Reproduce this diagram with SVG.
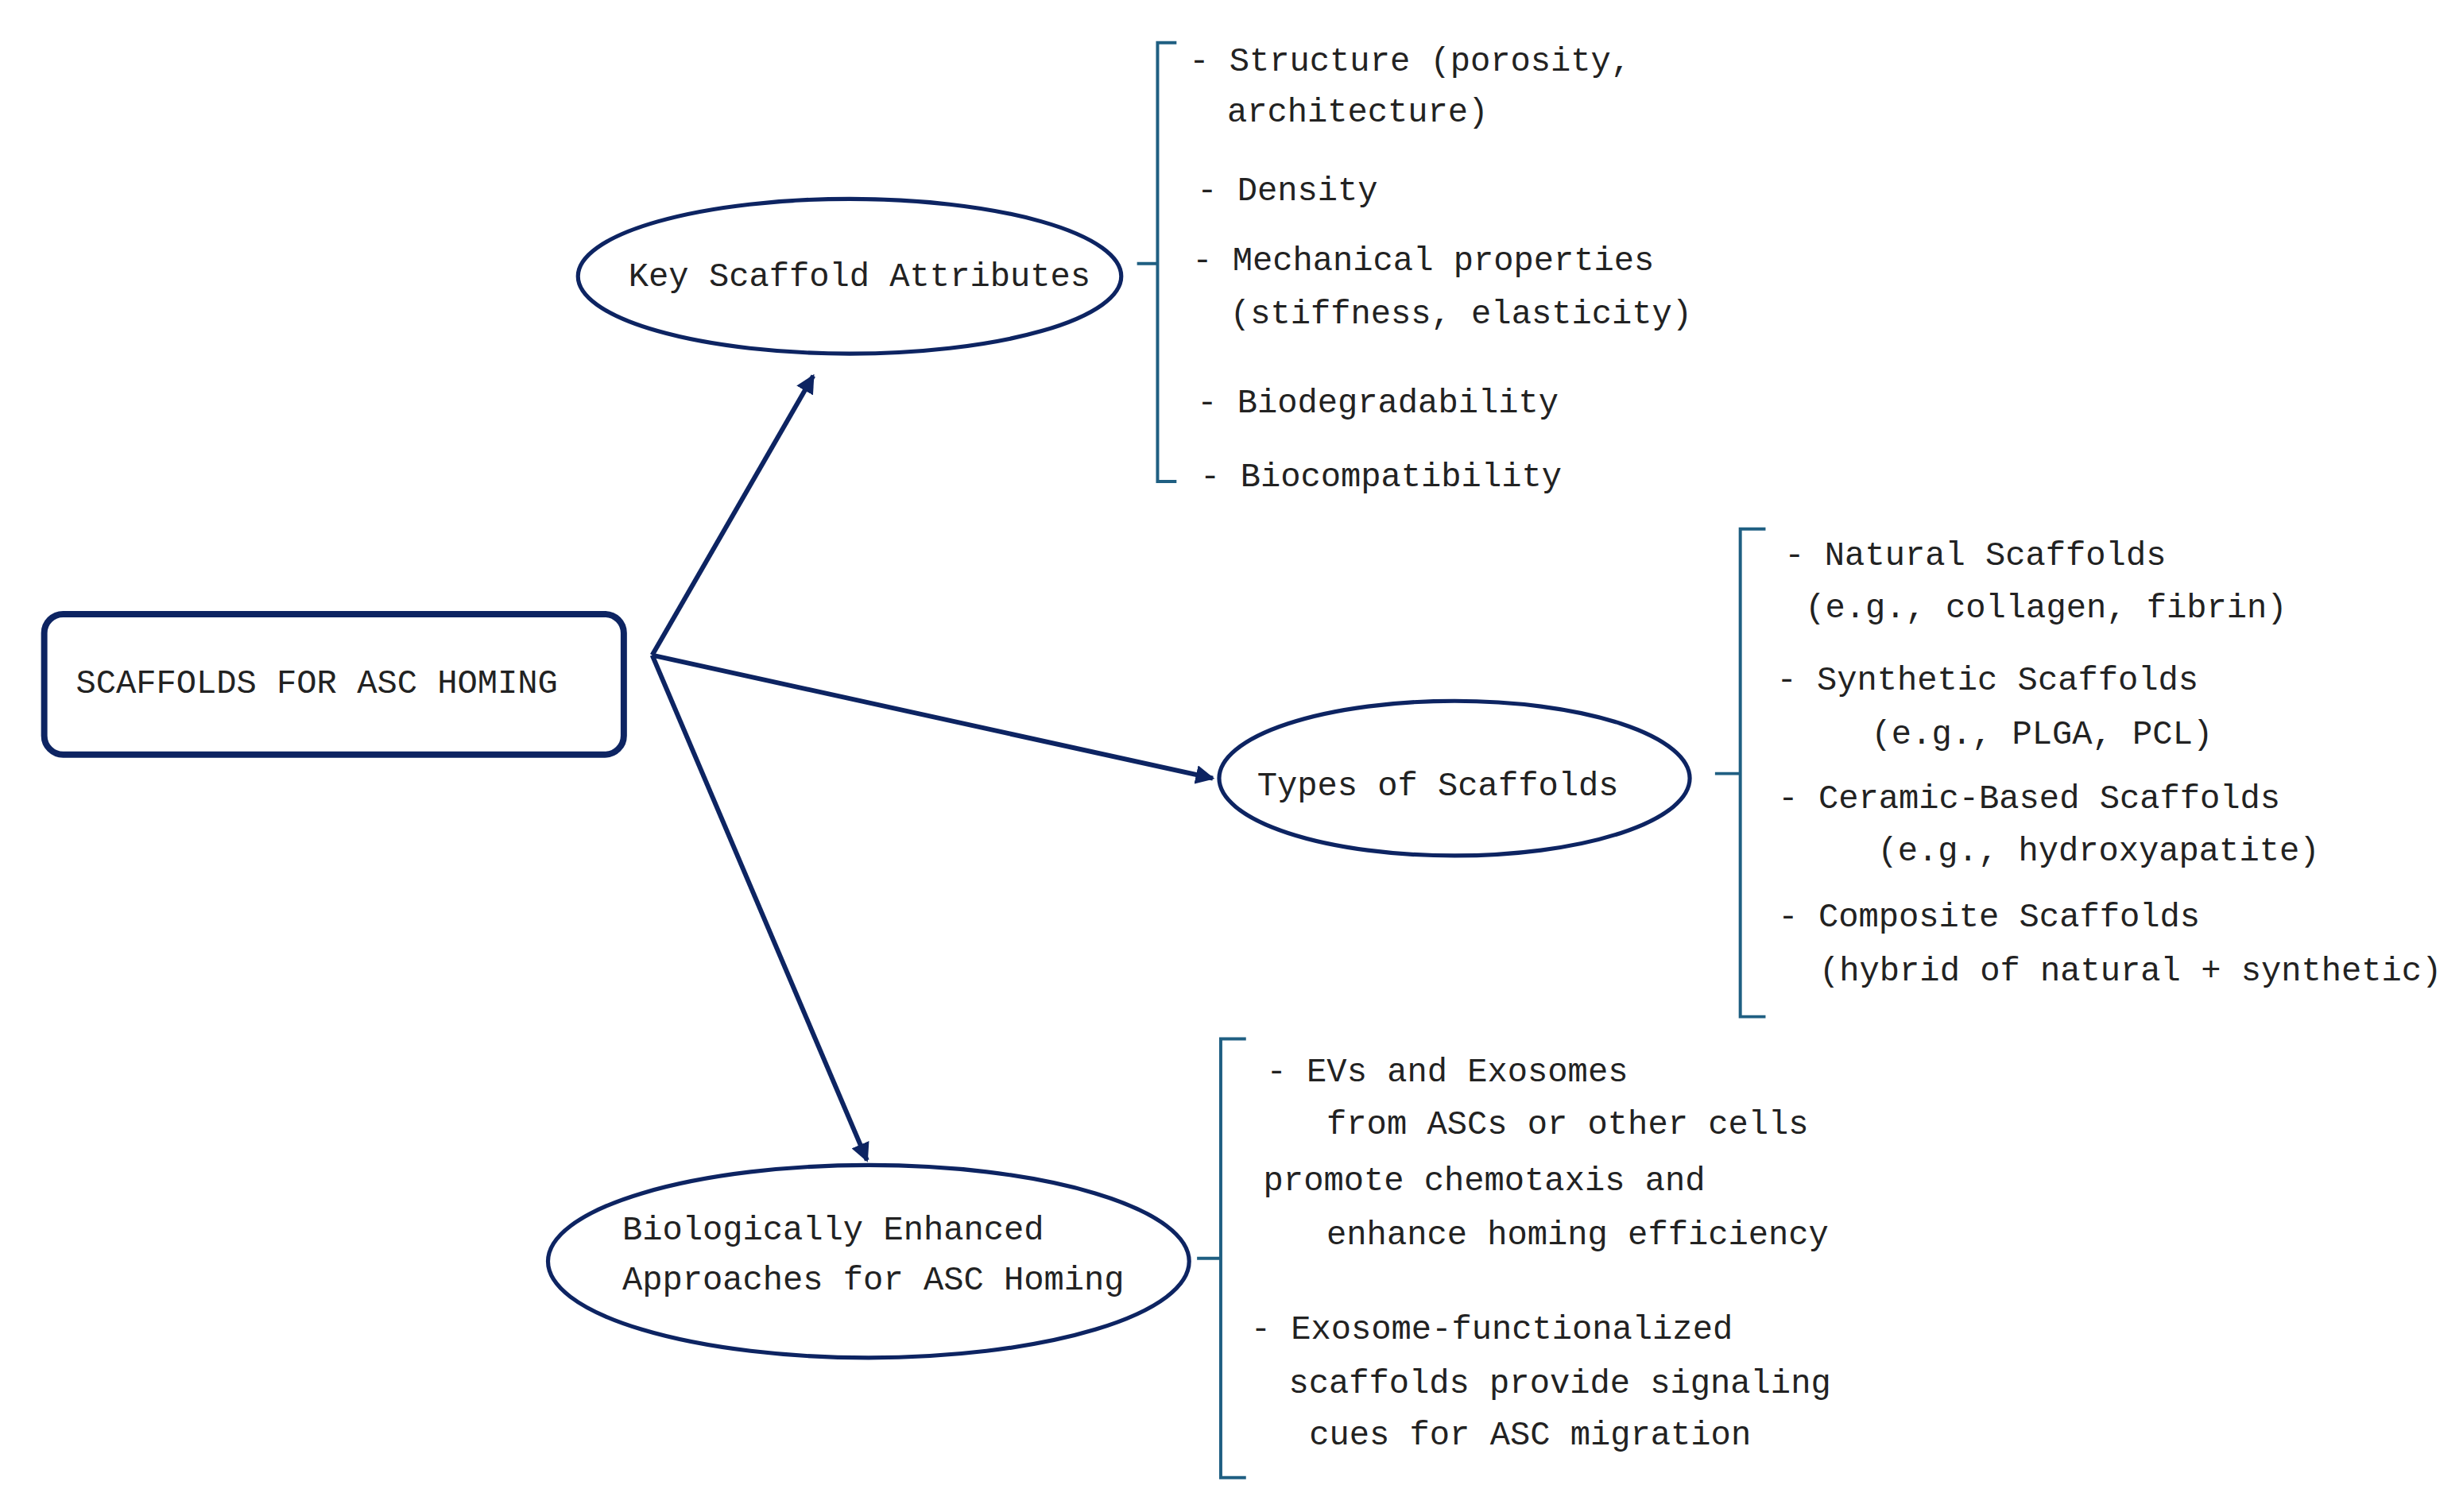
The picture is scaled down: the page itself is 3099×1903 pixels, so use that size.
<svg xmlns="http://www.w3.org/2000/svg" width="3099" height="1903" viewBox="0 0 3099 1903">
<style>
text{font-family:"Liberation Mono","DejaVu Sans Mono",monospace;font-size:21.2px;fill:#222}
.el{fill:none;stroke:#0d2462;stroke-width:2.6}
.br{fill:none;stroke:#1f5f82;stroke-width:2}
.ar{fill:none;stroke:#0d2462;stroke-width:3}
</style>
<defs><marker id="ah" viewBox="0 0 10 10" refX="9" refY="5" markerWidth="4" markerHeight="4" orient="auto"><path d="M0,0L10,5L0,10z" fill="#0d2462"/></marker></defs>
<rect width="3099" height="1903" fill="#fff"/>
<g transform="scale(1.987)">
<g id="connectors">
<line class="ar" x1="413" y1="415" x2="515" y2="238" marker-end="url(#ah)"/>
<line class="ar" x1="413" y1="415" x2="768" y2="493" marker-end="url(#ah)"/>
<line class="ar" x1="413" y1="415" x2="549" y2="735" marker-end="url(#ah)"/>
<path class="br" d="M745,27H733V305H745M733,167H720"/>
<path class="br" d="M1118,335H1102V644H1118M1102,490H1086"/>
<path class="br" d="M789,658H773V936H789M773,797H758"/>
</g>
<g id="root"><rect x="28" y="389" width="367" height="89" rx="12" fill="none" stroke="#0d2462" stroke-width="4"/><text x="48" y="439">SCAFFOLDS FOR ASC HOMING</text></g>
<g id="key"><ellipse class="el" cx="538" cy="175" rx="172" ry="49"/><text x="398" y="181">Key Scaffold Attributes</text></g>
<g id="types"><ellipse class="el" cx="921" cy="493" rx="149" ry="49"/><text x="796" y="504">Types of Scaffolds</text></g>
<g id="bio"><ellipse class="el" cx="550" cy="799" rx="203" ry="61"/><text x="394" y="785">Biologically Enhanced</text><text x="394" y="817">Approaches for ASC Homing</text></g>
<g id="attrs">
<text x="753" y="45">- Structure (porosity,</text>
<text x="777" y="77">architecture)</text>
<text x="758" y="127">- Density</text>
<text x="755" y="171">- Mechanical properties</text>
<text x="779" y="205">(stiffness, elasticity)</text>
<text x="758" y="261">- Biodegradability</text>
<text x="760" y="308">- Biocompatibility</text>
</g>
<g id="typelist">
<text x="1130" y="358">- Natural Scaffolds</text>
<text x="1143" y="391">(e.g., collagen, fibrin)</text>
<text x="1125" y="437">- Synthetic Scaffolds</text>
<text x="1185" y="471">(e.g., PLGA, PCL)</text>
<text x="1126" y="512">- Ceramic-Based Scaffolds</text>
<text x="1189" y="545">(e.g., hydroxyapatite)</text>
<text x="1126" y="587">- Composite Scaffolds</text>
<text x="1152" y="621">(hybrid of natural + synthetic)</text>
</g>
<g id="biolist">
<text x="802" y="685">- EVs and Exosomes</text>
<text x="840" y="718">from ASCs or other cells</text>
<text x="800" y="754">promote chemotaxis and</text>
<text x="840" y="788">enhance homing efficiency</text>
<text x="792" y="848">- Exosome-functionalized</text>
<text x="816" y="882">scaffolds provide signaling</text>
<text x="829" y="915">cues for ASC migration</text>
</g>
</g>
</svg>
